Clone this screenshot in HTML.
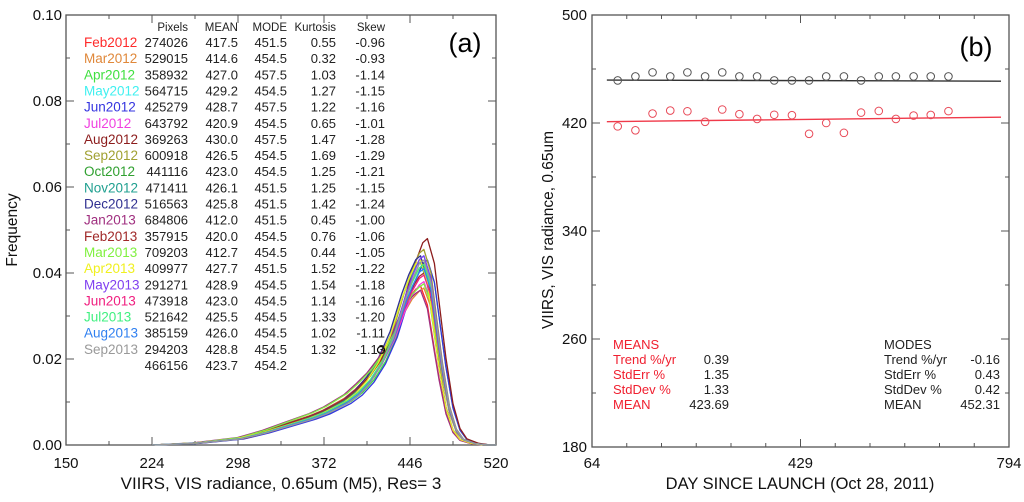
<!DOCTYPE html>
<html><head><meta charset="utf-8"><style>
body{margin:0;background:#fff;width:1024px;height:497px;overflow:hidden}
svg{font-family:"Liberation Sans",sans-serif}
</style></head><body>
<svg id="fig" width="1024" height="497" viewBox="0 0 1024 497">
<g id="pa"></g>
<g id="pb"></g>
</svg>
<script>
const months=["Feb2012","Mar2012","Apr2012","May2012","Jun2012","Jul2012","Aug2012","Sep2012","Oct2012","Nov2012","Dec2012","Jan2013","Feb2013","Mar2013","Apr2013","May2013","Jun2013","Jul2013","Aug2013","Sep2013"];
const monthColors=["#ff2a2a","#e0883a","#40e040","#40f0f0","#3535e0","#f040e0","#8c1c1c","#a0a030","#30a030","#20a090","#303090","#a03080","#a02828","#80f040","#f0f020","#8040f0","#f02080","#40f080","#3080f0","#999999"];
const pixels=["274026","529015","358932","564715","425279","643792","369263","600918","441116","471411","516563","684806","357915","709203","409977","291271","473918","521642","385159","294203"];
const means=[417.5,414.6,427.0,429.2,428.7,420.9,430.0,426.5,423.0,426.1,425.8,412.0,420.0,412.7,427.7,428.9,423.0,425.5,426.0,428.8];
const modes=[451.5,454.5,457.5,454.5,457.5,454.5,457.5,454.5,454.5,451.5,451.5,451.5,454.5,454.5,451.5,454.5,454.5,454.5,454.5,454.5];
const kurt=["0.55","0.32","1.03","1.27","1.22","0.65","1.47","1.69","1.25","1.25","1.42","0.45","0.76","0.44","1.52","1.54","1.14","1.33","1.02","1.32"];
const skew=["-0.96","-0.93","-1.14","-1.15","-1.16","-1.01","-1.28","-1.29","-1.21","-1.15","-1.24","-1.00","-1.06","-1.05","-1.22","-1.18","-1.16","-1.20","-1.11","-1.13"];
const peaks=[0.037,0.0365,0.043,0.044,0.043,0.038,0.048,0.0455,0.042,0.0425,0.044,0.036,0.040,0.0375,0.043,0.044,0.0395,0.042,0.041,0.043];
const shapeX=[224,260,298,320,340,360,372,390,400,410,420,430,440,446,452,456,462,468,472,478,484,490,500,510,520];
const shapeY=[0,0.01,0.035,0.07,0.11,0.15,0.18,0.24,0.29,0.36,0.46,0.6,0.8,0.9,0.98,1.0,0.88,0.6,0.42,0.2,0.08,0.03,0.008,0,0];
const aXTicks=[150,224,298,372,446,520];
const aYTicks=[0,0.02,0.04,0.06,0.08,0.10];
const days=[109,140,170,201,231,262,292,322,353,383,414,444,474,505,535,566,596,627,657,688];
const trendMeans=[421.0,424.3];
const trendModes=[451.8,451.0];
const bXTicks=[64,429,794];
const bYTicks=[180,260,340,420,500];
const NS="http://www.w3.org/2000/svg";
function mk(p,t,a,txt){const e=document.createElementNS(NS,t);for(const k in a)e.setAttribute(k,a[k]);if(txt!==undefined)e.textContent=txt;p.appendChild(e);return e;}
// Panel A
const pa=document.getElementById('pa');
const aL=66,aR=496,aT=15,aB=445;
const ax=v=>aL+(v-150)/370*(aR-aL), ay=v=>aB-v/0.10*(aB-aT);
const fr=mk(pa,'rect',{x:aL,y:aT,width:aR-aL,height:aB-aT,fill:'none',stroke:'#555','stroke-width':1.3});

for(let v=150;v<=520.1;v+=37){const maj=Math.abs((v-150)%74)<0.1;const L=maj?8:4;
mk(pa,'line',{x1:ax(v),x2:ax(v),y1:aB,y2:aB-L,stroke:'#555'});mk(pa,'line',{x1:ax(v),x2:ax(v),y1:aT,y2:aT+L,stroke:'#555'});}
for(let v=0;v<=0.1001;v+=0.01){const maj=Math.round(v*100)%2==0;const L=maj?8:4;
mk(pa,'line',{x1:aL,x2:aL+L,y1:ay(v),y2:ay(v),stroke:'#555'});mk(pa,'line',{x1:aR,x2:aR-L,y1:ay(v),y2:ay(v),stroke:'#555'});}
aXTicks.forEach(v=>{const t=mk(pa,'text',{x:ax(v),y:468,'font-size':15,'text-anchor':'middle',fill:'#111'},String(v));});
aYTicks.forEach(v=>{const t=mk(pa,'text',{x:62,y:ay(v)+5,'font-size':15,'text-anchor':'end',fill:'#111'},v.toFixed(2));});
let t=mk(pa,'text',{x:281,y:489,'font-size':17,'text-anchor':'middle',fill:'#111'},'VIIRS, VIS radiance, 0.65um (M5), Res=  3');

t=mk(pa,'text',{x:0,y:0,'font-size':15.5,'text-anchor':'middle',fill:'#111',transform:'translate(17,230) rotate(-90)'},'Frequency');

months.forEach((m,i)=>{const sh=modes[i]-454.5+2;const tail=1+(426-means[i])*0.025;let d='';
shapeX.forEach((x,j)=>{const xv=Math.min(520,Math.max(150,x+(j>0&&j<shapeX.length-1?sh:0)));const w=x<452?Math.min(1,(452-x)/50):0;const f=1+(tail-1)*w;d+=(j?'L':'M')+ax(xv).toFixed(1)+','+ay(shapeY[j]*f*peaks[i]).toFixed(1);});
const p=mk(pa,'path',{d:d,fill:'none',stroke:monthColors[i],'stroke-width':1.3,'stroke-linejoin':'round'});
});
const cc=mk(pa,'circle',{cx:381,cy:350,r:3.5,fill:'none',stroke:'#000','stroke-width':1.2});

const cols=[188,238,287,336,385];
['Pixels','MEAN','MODE','Kurtosis','Skew'].forEach((h,k)=>{const e=mk(pa,'text',{x:cols[k],y:31,'font-size':11.5,'text-anchor':'end',fill:'#222'},h);});
months.forEach((m,i)=>{const y=47+i*16.15;
const e=mk(pa,'text',{x:84,y:y,'font-size':13.5,fill:monthColors[i]},m);
[pixels[i],means[i].toFixed(1),modes[i].toFixed(1),kurt[i],skew[i]].forEach((v,k)=>{const c=mk(pa,'text',{x:cols[k],y:y,'font-size':13,'text-anchor':'end',fill:'#222'},v);});});
['466156','423.7','454.2'].forEach((v,k)=>{const c=mk(pa,'text',{x:cols[k],y:47+20*16.15,'font-size':13,'text-anchor':'end',fill:'#222'},v);});
t=mk(pa,'text',{x:465,y:52,'font-size':27,'text-anchor':'middle',fill:'#000'},'(a)');
// Panel B
const pb=document.getElementById('pb');
const bL=592,bR=1009,bT=15,bB=447;
const bx=v=>bL+(v-64)/730*(bR-bL), by=v=>bB-(v-180)/320*(bB-bT);
const fb=mk(pb,'rect',{x:bL,y:bT,width:bR-bL,height:bB-bT,fill:'none',stroke:'#555','stroke-width':1.3});

for(let k=0;k<=12;k++){const v=64+k*730/12;const L=k%6==0?8:4;
mk(pb,'line',{x1:bx(v),x2:bx(v),y1:bB,y2:bB-L,stroke:'#555'});mk(pb,'line',{x1:bx(v),x2:bx(v),y1:bT,y2:bT+L,stroke:'#555'});}
for(let v=180;v<=500;v+=40){const L=(v-180)%80==0?8:4;
mk(pb,'line',{x1:bL,x2:bL+L,y1:by(v),y2:by(v),stroke:'#555'});mk(pb,'line',{x1:bR,x2:bR-L,y1:by(v),y2:by(v),stroke:'#555'});}
bXTicks.forEach(v=>{const e=mk(pb,'text',{x:bx(v),y:468,'font-size':15,'text-anchor':'middle',fill:'#111'},String(v));});
bYTicks.forEach(v=>{const e=mk(pb,'text',{x:587,y:by(v)+5,'font-size':15,'text-anchor':'end',fill:'#111'},String(v));});
t=mk(pb,'text',{x:800,y:489,'font-size':16.5,'text-anchor':'middle',fill:'#111'},'DAY SINCE LAUNCH (Oct 28, 2011)');
t=mk(pb,'text',{x:0,y:0,'font-size':15.5,'text-anchor':'middle',fill:'#111',transform:'translate(553,230) rotate(-90)'},'VIIRS, VIS radiance, 0.65um');
let ln=mk(pb,'line',{x1:bx(90),x2:bx(780),y1:by(trendModes[0]),y2:by(trendModes[1]),stroke:'#333','stroke-width':1.4});
ln=mk(pb,'line',{x1:bx(90),x2:bx(780),y1:by(trendMeans[0]),y2:by(trendMeans[1]),stroke:'#f03a4a','stroke-width':1.4});
days.forEach((d,i)=>{let c=mk(pb,'circle',{cx:bx(d),cy:by(modes[i]),r:3.8,fill:'none',stroke:'#555','stroke-width':1});
c=mk(pb,'circle',{cx:bx(d),cy:by(means[i]),r:3.8,fill:'none',stroke:'#e84a58','stroke-width':1});});
t=mk(pb,'text',{x:976,y:56,'font-size':27,'text-anchor':'middle',fill:'#000'},'(b)');
const sL=['Trend %/yr','StdErr %','StdDev %','MEAN'];
const meanStats=['0.39','1.35','1.33','423.69'];const modeStats=['-0.16','0.43','0.42','452.31'];
function stats(x0,xr,title,vals,col,nm){let e=mk(pb,'text',{x:x0,y:349,'font-size':13,fill:col},title);
sL.forEach((l,k)=>{const y=364+k*15;let a=mk(pb,'text',{x:x0,y:y,'font-size':13,fill:col},l);
a=mk(pb,'text',{x:xr,y:y,'font-size':13,'text-anchor':'end',fill:'#222'},vals[k]);});}
stats(613,729,'MEANS',meanStats,'#f02030','means');
stats(884,1000,'MODES',modeStats,'#222','modes');
</script>
</body></html>
